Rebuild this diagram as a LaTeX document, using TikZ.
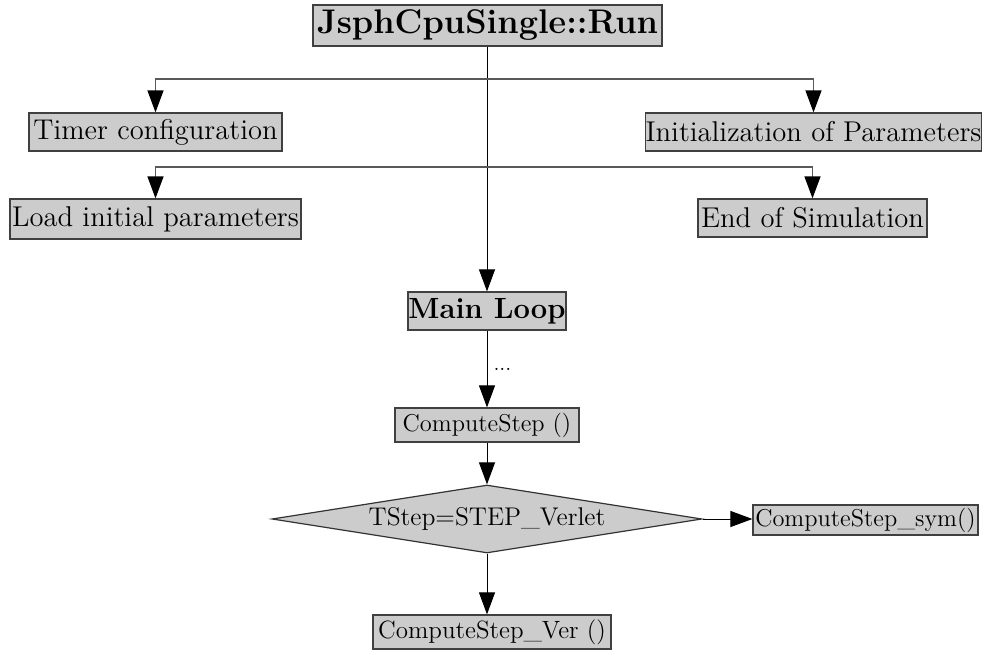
\documentclass[tikz,border=0pt]{standalone}
\usetikzlibrary{shapes.geometric,arrows.meta}
\begin{document}
\begin{tikzpicture}[x=0.5pt,y=-0.5pt,
  box/.style={draw=black!75,fill=black!20,line width=0.6pt,inner sep=0pt,
    minimum width=#1,align=center},
  bigtxt/.style={font=\fontsize{14.3}{17}\selectfont,minimum height=19pt},
  smalltxt/.style={font=\fontsize{12.2}{14}\selectfont},
  arr/.style={line width=0.5pt,-{Triangle[length=11pt,width=8pt]}},
  hline/.style={line width=0.6pt,draw=black!65,-{Triangle[length=11pt,width=8pt,color=black]}}]
\useasboundingbox (0,0) rectangle (982,653);

\node[box=174.5pt,minimum height=20.5pt,font=\bfseries\fontsize{17.1}{20}\selectfont] (run) at (487.5,25.5) {JsphCpuSingle::Run};
\node[box=126.5pt,bigtxt] (timer) at (155.5,132) {Timer configuration};
\node[box=167.5pt,bigtxt] (init) at (813.5,132) {Initialization of Parameters};
\node[box=145.5pt,bigtxt,minimum height=20pt] (load) at (155.5,219) {Load initial parameters};
\node[box=114.5pt,bigtxt] (endsim) at (812.5,218) {End of Simulation};
\node[box=79pt,minimum height=19pt,font=\bfseries\fontsize{14.6}{17}\selectfont] (main) at (487,311) {Main Loop};
\node[box=92pt,minimum height=17pt,smalltxt] (cstep) at (487,425) {ComputeStep ()};
\node[diamond,draw=black!80,fill=black!20,line width=0.6pt,inner sep=0pt,
  shape aspect=6.3,minimum width=215pt,minimum height=34pt,
  font=\fontsize{12.8}{15}\selectfont] (dec) at (487,519) {TStep=STEP\_Verlet};
\node[box=112.5pt,minimum height=15pt,smalltxt] (sym) at (865.5,520) {ComputeStep\_sym()};
\node[box=119pt,minimum height=17pt,font=\fontsize{12.5}{15}\selectfont] (ver) at (492,632) {ComputeStep\_Ver ()};

\coordinate (h1) at (487,79);
\coordinate (h2) at (487,167);

\draw[arr] (run.south -| h1) -- (main.north -| h1);
\draw[hline] (h1) -| (timer.north);
\draw[hline] (h1) -| (init.north);
\draw[hline] (h2) -| (load.north);
\draw[hline] (h2) -| (endsim.north);
\draw[arr] (main.south) -- node[right,font=\fontsize{11}{12}\selectfont,inner sep=3pt]{...} (cstep.north);
\draw[arr] (cstep.south) -- (dec.north);
\draw[arr] (dec.east) -- (sym.west |- dec.east);
\draw[arr] (dec.south) -- (ver.north -| dec.south);
\end{tikzpicture}
\end{document}
